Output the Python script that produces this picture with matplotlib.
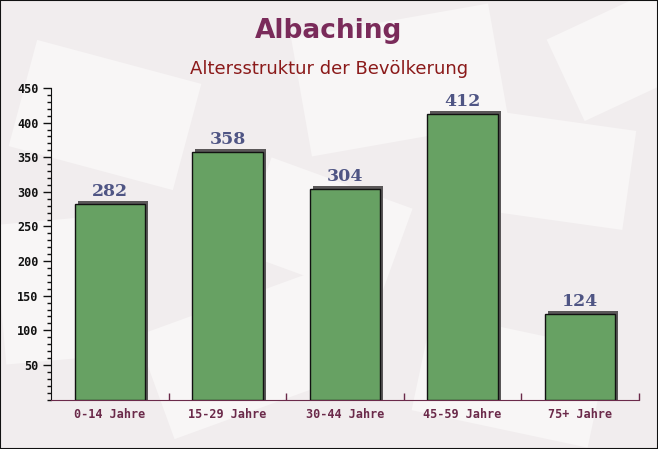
import matplotlib
matplotlib.use("Agg")
import matplotlib.pyplot as plt
from matplotlib.patches import Rectangle
import matplotlib.transforms as mtrans
import matplotlib.ticker as mticker

categories = ["0-14 Jahre", "15-29 Jahre", "30-44 Jahre", "45-59 Jahre", "75+ Jahre"]
values = [282, 358, 304, 412, 124]
yticks = [50, 100, 150, 200, 250, 300, 350, 400, 450]

fig = plt.figure(figsize=(6.58, 4.49), dpi=100)
fig.patch.set_facecolor("#f1edee")

# faint decorative background cards
cards = [(20, 60, 170, 110, -15), (300, 20, 200, 120, 10), (480, 120, 150, 100, -8),
         (150, 300, 190, 110, 20), (420, 330, 180, 100, -12), (560, 10, 120, 90, 25),
         (0, 220, 110, 140, 5), (250, 180, 150, 100, -20)]
for (cx, cy, cw, ch, ang) in cards:
    tr = mtrans.Affine2D().rotate_deg_around(cx + cw/2, 449 - cy - ch/2, ang) + \
        mtrans.Affine2D().scale(1/658, 1/449) + fig.transFigure
    fig.patches.append(Rectangle((cx, 449 - cy - ch), cw, ch, transform=tr,
                                 facecolor="#f8f6f6", edgecolor="none",
                                 zorder=-10))

ax = fig.add_axes([51/658, 1-399.5/449, 588/658, (399.5-88)/449])
ax.set_facecolor("none")
ax.set_zorder(5)

x = list(range(len(categories)))
w = 0.6
dx = 3/117.6
dy = 3 * 450 / 311.5
for xi, v in zip(x, values):
    ax.add_patch(Rectangle((xi - w/2 + dx, 0), w, v + dy, facecolor="#5a5758",
                           edgecolor="none", zorder=2))
ax.bar(x, values, width=w, color="#67a163", edgecolor="#111111",
       linewidth=1.0, zorder=3)
for xi, v in zip(x, values):
    ax.text(xi, v + 6, str(v), ha="center", va="bottom", fontsize=12.5,
            fontweight="bold", color="#4f5584", family="DejaVu Serif", zorder=4)

ax.set_xlim(-0.5, len(categories) - 0.5)
ax.set_ylim(0, 450)
ax.set_yticks(yticks)
ax.set_yticklabels([str(t) for t in yticks], family="DejaVu Sans Mono",
                   fontweight="bold", fontsize=8.5, color="#111111")
ax.yaxis.set_minor_locator(mticker.MultipleLocator(10))
ax.tick_params(axis="y", which="major", length=6, width=1, color="#111111", pad=3)
ax.tick_params(axis="y", which="minor", length=3, width=1, color="#111111")

ax.set_xticks(x)
ax.set_xticklabels(categories, family="DejaVu Sans Mono", fontsize=8.5,
                   fontweight="bold", color="#6b2a4a")
ax.tick_params(axis="x", which="major", length=0, pad=6)
ax.xaxis.set_minor_locator(mticker.FixedLocator([0.5, 1.5, 2.5, 3.5, 4.5]))
ax.tick_params(axis="x", which="minor", direction="in", length=5, width=1,
               color="#6b2a4a")

for s in ["top", "right"]:
    ax.spines[s].set_visible(False)
ax.spines["left"].set_color("#111111")
ax.spines["bottom"].set_color("#6b2a4a")

fig.text(0.5, 1-31/449, "Albaching", ha="center", va="center", fontsize=19,
         fontweight="bold", color="#7a2b5a", zorder=6)
fig.text(0.5, 1-69/449, "Altersstruktur der Bevölkerung", ha="center",
         va="center", fontsize=13, color="#8b1a1a", zorder=6)

fig.patches.append(Rectangle((0, 0), 1, 1, transform=fig.transFigure,
                             fill=False, edgecolor="#111111", linewidth=1.5,
                             zorder=10))
fig.savefig("out.png", dpi=100, facecolor=fig.get_facecolor())
